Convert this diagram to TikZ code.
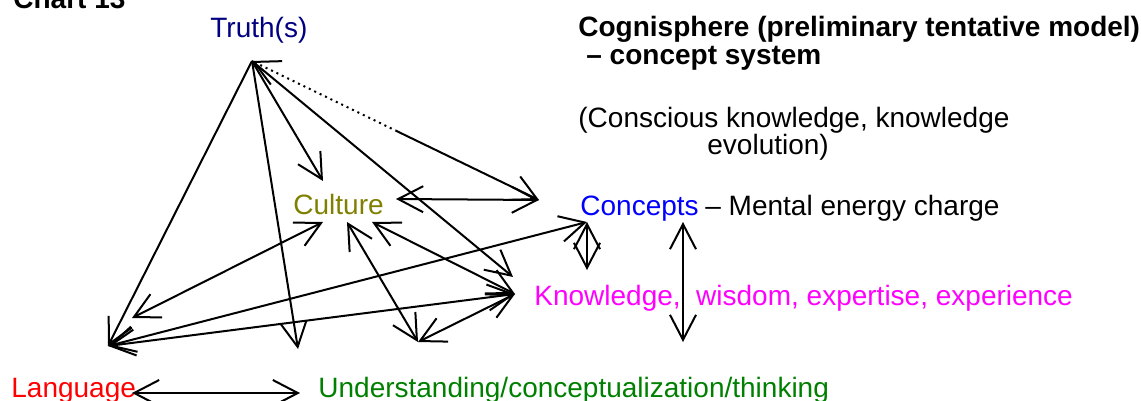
\documentclass[tikz,border=0pt]{standalone}
\usepackage{fontspec}
\setmainfont{Liberation Sans}
\usetikzlibrary{arrows.meta,calc}
\definecolor{truthc}{HTML}{000080}
\definecolor{culturec}{HTML}{808000}
\definecolor{conceptc}{HTML}{0000FF}
\definecolor{knowc}{HTML}{FF00FF}
\definecolor{langc}{HTML}{FF0000}
\definecolor{underc}{HTML}{008000}
\begin{document}
\begin{tikzpicture}[x=0.5pt,y=-0.5pt,
  lbl/.style={anchor=base west, inner sep=0pt, font=\fontsize{14}{16.8}\selectfont},
  boldlbl/.style={lbl, font=\fontsize{14}{16.8}\selectfont\bfseries},
  conn/.style={line width=1pt},
  >={Straight Barb[length=12.5pt,width=13pt]}]
\useasboundingbox (0,0) rectangle (1141,401);
\clip (0,0) rectangle (1141,401);

% texts
\node[boldlbl] (chart) at (13,9) {Chart 13};
\node[lbl, text=truthc] (truth) at (210,38) {Truth(s)};
\node[boldlbl] (title) at (578,37) {Cognisphere (preliminary tentative model)};
\node[boldlbl] (title2) at (586,65) {\textendash\ concept system};
\node[lbl] (consc) at (578,127) {(Conscious knowledge, knowledge};
\node[lbl] (evol) at (707,155) {evolution)};
\node[lbl, text=culturec] (culture) at (293,214) {Culture};
\node[lbl, text=conceptc] (concepts) at (580,215) {Concepts};
\node[lbl] (mental) at (705,215) {\textendash\ Mental energy charge};
\node[lbl, text=knowc] (know) at (534,305) {Knowledge,\ \ wisdom, expertise, experience};
\node[lbl, text=langc] (lang) at (11,397) {Language};
\node[lbl, text=underc] (under) at (318,397) {Understanding/conceptualization/thinking};

% connector end points
\coordinate (T) at (252,61);
\coordinate (LA) at (108,346);
\coordinate (LB) at (132,318);
\coordinate (LC) at (132,393);
\coordinate (UA) at (298,349);
\coordinate (UB) at (300,393);
\coordinate (CT) at (323,181);
\coordinate (CE) at (396,199);
\coordinate (CL) at (323,222);
\coordinate (CM) at (347,222);
\coordinate (CR) at (372,222);
\coordinate (KW) at (539,200);
\coordinate (KB) at (587,222);
\coordinate (KM) at (683,222);
\coordinate (NT) at (513,277);
\coordinate (NL) at (515,294);
\coordinate (NA) at (587,270);
\coordinate (NB) at (683,342);
\coordinate (V) at (418,342);
\coordinate (DM) at ($(T)!0.5!(KW)$);

% connectors from Truth(s)
\draw[conn,->] (T) -- (LA);
\draw[conn,->] (T) -- (UA);
\draw[conn,->] (T) -- (CT);
\draw[conn,->] (T) -- (NT);
\draw[conn,dotted,<-] (T) -- (DM);
\draw[conn,->] (DM) -- (KW);

% others
\draw[conn,<->] (CE) -- (KW);
\draw[conn,<->] (LB) -- (CL);
\draw[conn,<->] (CM) -- (V);
\draw[conn,<->] (CR) -- (NL);
\draw[conn,<->] (V) -- (NL);
\draw[conn,<->] (LA) -- (NL);
\draw[conn,<->] (LA) -- (KB);
\draw[conn,<->] (KB) -- (NA);
\draw[conn,<->] (KM) -- (NB);
\draw[conn,<->] (LC) -- (UB);
\end{tikzpicture}
\end{document}
